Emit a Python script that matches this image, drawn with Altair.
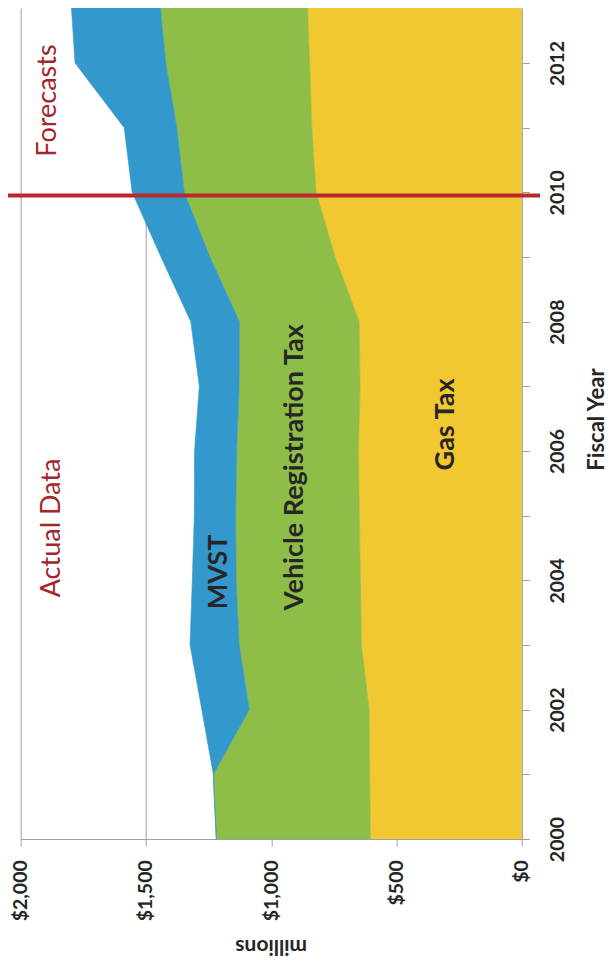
import altair as alt
import pandas as pd

# ---- data (millions of dollars) ----
years = [2000, 2001, 2002, 2003, 2004, 2005, 2006, 2007, 2008, 2009, 2010, 2011, 2012, 2013]
gas_tax = [604, 607, 609, 640, 644, 648, 652, 645, 649, 745, 821, 838, 847, 856]
vehicle_reg_tax = [615, 624, 479, 488, 496, 494, 486, 483, 478, 500, 526, 539, 574, 590]
mvst = [0, 0, 189, 196, 175, 165, 168, 159, 194, 195, 208, 210, 362, 354]

series_names = ["Gas Tax", "Vehicle Registration Tax", "MVST"]
series_colors = ["#F1C830", "#8FBE48", "#3399CC"]

value_ticks = [0, 500, 1000, 1500, 2000]
year_ticks = list(range(2000, 2013))
year_domain = [2000, 2012.85]

forecast_year = 2009.95

# series labels inside the areas
label_text = ["MVST", "Vehicle Registration Tax", "Gas Tax"]
label_year = [2004.13, 2005.75, 2006.41]
label_value = [1209, 906, 301]

# annotations
note_text = ["Actual Data", "Forecasts"]
note_year = [2004.81, 2011.42]
note_value = [1874, 1892]

# ---- build tables ----
rows = []
for i, y in enumerate(years):
    lo = 0
    for name, vals in zip(series_names, [gas_tax, vehicle_reg_tax, mvst]):
        hi = lo + vals[i]
        rows.append({"year": y, "series": name, "lo": lo, "hi": hi})
        lo = hi
area_df = pd.DataFrame(rows)

labels_df = pd.DataFrame({"text": label_text, "year": label_year, "value": label_value})
notes_df = pd.DataFrame({"text": note_text, "year": note_year, "value": note_value})
rule_df = pd.DataFrame({"year": [forecast_year], "x1": [2062], "x2": [-73]})

GRAY = "#A0A0A0"
TXT = "#262626"
RED_TXT = "#A4262C"
FONT = "Lato"

xscale = alt.Scale(domain=[0, 2000], reverse=True, nice=False, zero=True)
yscale = alt.Scale(domain=year_domain, nice=False, zero=False)

x_axis = alt.Axis(
    values=value_ticks, format="$,.0f", labelAngle=-90, labelAlign="right",
    labelBaseline="middle", labelPadding=13.7, labelFont=FONT, labelFontWeight="bold",
    labelFontSize=19.5, labelColor=TXT, tickSize=7, tickColor=GRAY, domainColor=GRAY,
    grid=True, gridColor=GRAY, gridWidth=1, title="millions", titleAngle=180,
    titleBaseline="bottom", titleAlign="center", titleX=250, titleY=96,
    titleFont=FONT, titleFontWeight="bold", titleFontSize=21, titleColor=TXT,
)

y_axis = alt.Axis(
    orient="right", values=year_ticks, format="d",
    labelExpr="(datum.value % 2 == 0) ? datum.label : ''",
    labelAngle=-90, labelAlign="center", labelBaseline="top", labelPadding=19.3,
    labelFont=FONT, labelFontWeight="bold", labelFontSize=19.5, labelColor=TXT,
    tickSize=7.6, tickColor=GRAY, domainColor=GRAY, grid=False,
    title="Fiscal Year", titleAngle=-90, titleBaseline="top", titleAlign="center",
    titleX=65, titleY=411, titleFont=FONT, titleFontWeight="bold", titleFontSize=22,
    titleColor=TXT,
)

areas = alt.Chart(area_df).mark_area(orient="horizontal", clip=True).encode(
    y=alt.Y("year:Q", scale=yscale, axis=y_axis),
    x=alt.X("hi:Q", scale=xscale, axis=x_axis),
    x2="lo:Q",
    color=alt.Color("series:N", scale=alt.Scale(domain=series_names, range=series_colors), legend=None),
    stroke=alt.Stroke("series:N", scale=alt.Scale(domain=series_names, range=series_colors), legend=None),
    strokeWidth=alt.value(0.6),
)

rule = alt.Chart(rule_df).mark_rule(color="#B8282D", strokeWidth=4).encode(
    y=alt.Y("year:Q", scale=yscale),
    x=alt.X("x1:Q", scale=xscale),
    x2="x2:Q",
)

labels = alt.Chart(labels_df).mark_text(
    angle=270, align="center", baseline="middle", font=FONT, fontWeight="bold",
    fontSize=27, color=TXT,
).encode(
    y=alt.Y("year:Q", scale=yscale),
    x=alt.X("value:Q", scale=xscale),
    text="text:N",
)

notes = alt.Chart(notes_df).mark_text(
    angle=270, align="center", baseline="middle", font=FONT, fontWeight="normal",
    fontSize=27, color=RED_TXT,
).encode(
    y=alt.Y("year:Q", scale=yscale),
    x=alt.X("value:Q", scale=xscale),
    text="text:N",
)

chart = alt.layer(areas, rule, labels, notes).properties(
    width=501, height=831,
    autosize=alt.AutoSizeParams(type="none"),
    padding={"left": 12.7, "top": 0, "right": 83.3, "bottom": 118},
).configure_view(stroke=None)

chart.save("out.html", embed_options={"renderer": "svg", "actions": False})
